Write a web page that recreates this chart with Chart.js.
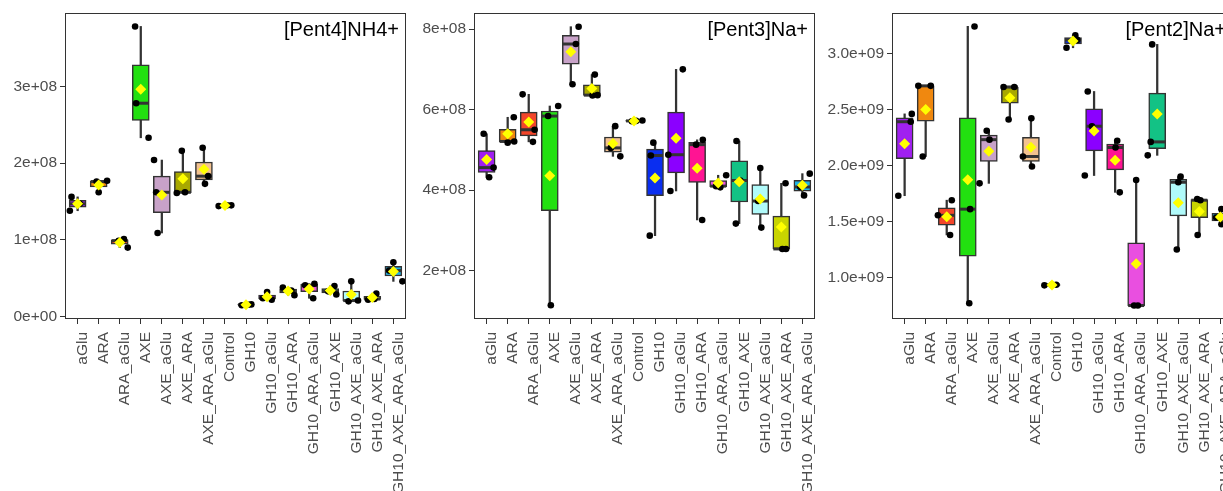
<!DOCTYPE html>
<html>
<head>
<meta charset="utf-8">
<script src="https://cdn.jsdelivr.net/npm/chart.js@4.4.1/dist/chart.umd.min.js"></script>
<style>
  html, body { margin: 0; padding: 0; background: #fff; width: 1223px; height: 491px; overflow: hidden; }
  canvas.panel { position: absolute; top: 0; }
</style>
</head>
<body>
<canvas id="p1" class="panel" width="410" height="491" style="left:0px"></canvas>
<canvas id="p2" class="panel" width="409" height="491" style="left:410px"></canvas>
<canvas id="p3" class="panel" width="417" height="491" style="left:820px"></canvas>
<script>
/* boxplots of peak areas per enzyme treatment, one panel per ion */

const CATEGORIES = ['aGlu', 'ARA', 'ARA_aGlu', 'AXE', 'AXE_aGlu', 'AXE_ARA', 'AXE_ARA_aGlu', 'Control',
  'GH10', 'GH10_aGlu', 'GH10_ARA', 'GH10_ARA_aGlu', 'GH10_AXE', 'GH10_AXE_aGlu', 'GH10_AXE_ARA', 'GH10_AXE_ARA_aGlu'];

// three replicates per treatment, low to high
const PENT4_NH4 = [
  [1.38e8, 1.47e8, 1.56e8], [1.62e8, 1.76e8, 1.77e8], [0.90e8, 0.99e8, 1.01e8], [2.33e8, 2.78e8, 3.78e8],
  [1.09e8, 1.62e8, 2.04e8], [1.61e8, 1.62e8, 2.16e8], [1.73e8, 1.83e8, 2.20e8], [1.44e8, 1.45e8, 1.45e8],
  [0.15e8, 0.155e8, 0.16e8], [0.22e8, 0.24e8, 0.32e8], [0.28e8, 0.34e8, 0.38e8], [0.24e8, 0.41e8, 0.43e8],
  [0.29e8, 0.33e8, 0.40e8], [0.20e8, 0.21e8, 0.46e8], [0.22e8, 0.23e8, 0.30e8], [0.46e8, 0.60e8, 0.71e8]
];
const PENT3_NA = [
  [4.32e8, 4.56e8, 5.40e8], [5.18e8, 5.21e8, 5.81e8], [5.20e8, 5.50e8, 6.38e8], [1.14e8, 5.84e8, 6.09e8],
  [6.63e8, 7.63e8, 8.06e8], [6.35e8, 6.36e8, 6.87e8], [4.84e8, 5.05e8, 5.59e8], [5.71e8, 5.72e8, 5.73e8],
  [2.87e8, 4.86e8, 5.18e8], [3.98e8, 4.88e8, 7.00e8], [3.26e8, 5.13e8, 5.25e8], [4.07e8, 4.10e8, 4.37e8],
  [3.17e8, 4.24e8, 5.22e8], [3.07e8, 3.73e8, 4.55e8], [2.54e8, 2.54e8, 4.17e8], [3.87e8, 4.08e8, 4.41e8]
];
const PENT2_NA = [
  [1.73e9, 2.39e9, 2.46e9], [2.08e9, 2.71e9, 2.71e9], [1.38e9, 1.555e9, 1.69e9], [0.77e9, 1.61e9, 3.24e9],
  [1.84e9, 2.23e9, 2.31e9], [2.41e9, 2.70e9, 2.70e9], [1.99e9, 2.08e9, 2.42e9], [0.93e9, 0.935e9, 0.935e9],
  [3.05e9, 3.12e9, 3.16e9], [1.91e9, 2.35e9, 2.66e9], [1.76e9, 2.16e9, 2.22e9], [0.75e9, 0.75e9, 1.87e9],
  [2.09e9, 2.21e9, 3.08e9], [1.25e9, 1.85e9, 1.90e9], [1.38e9, 1.69e9, 1.70e9], [1.475e9, 1.535e9, 1.61e9]
];

const PENT4_TICKS = [0, 1e8, 2e8, 3e8];
const PENT3_TICKS = [2e8, 4e8, 6e8, 8e8];
const PENT2_TICKS = [1.0e9, 1.5e9, 2.0e9, 2.5e9, 3.0e9];

const FILLS = ['#A020F0', '#F0880F', '#F2452A', '#22E010', '#C8A2C8', '#A8A800', '#F4C28F', '#BEBEBE',
  '#0A2EF0', '#8B00FF', '#FF1493', '#E94FE0', '#13C285', '#B0FAFA', '#C8D400', '#1EB4E6'];

// sideways jitter of each replicate dot, in category widths
const PENT4_JITTER = [
  [-0.37, 0.1, -0.29], [0, -0.1, 0.4], [0.38, -0.05, 0.2], [0.37, -0.22, -0.27],
  [-0.2, -0.27, -0.37], [-0.29, 0.1, -0.05], [0.05, 0.2, -0.06], [-0.3, 0.1, 0.3],
  [-0.2, 0.1, 0.25], [0.22, -0.2, 0], [0.3, 0.15, -0.25], [0.19, -0.19, 0.25],
  [0.29, -0.1, 0.2], [-0.13, 0.32, 0], [-0.2, 0.1, 0.19], [0.43, -0.2, 0]
];
const PENT3_JITTER = [
  [0.12, 0.33, -0.14], [0, 0.31, 0.29], [0.2, 0.28, -0.29], [0.05, -0.08, 0.4],
  [0.08, 0.24, 0.37], [0.03, 0.27, 0.14], [0.35, -0.1, 0.11], [-0.1, 0.1, 0.4],
  [-0.25, -0.2, -0.08], [-0.27, -0.37, 0.32], [0.24, -0.05, 0.27], [0.1, -0.1, 0.38],
  [-0.16, 0.05, -0.13], [0.05, -0.1, 0], [0.05, 0.22, 0.2], [0.08, -0.1, 0.35]
];
const PENT2_JITTER = [
  [-0.3, 0.29, 0.34], [-0.14, -0.35, 0.24], [0.16, -0.42, 0.24], [0.07, 0.11, 0.32],
  [-0.44, 0.03, -0.1], [-0.06, -0.3, 0.21], [0.05, -0.38, 0.02], [-0.36, 0, 0.2],
  [-0.31, 0.2, 0.11], [-0.44, -0.1, -0.3], [0.22, 0.02, 0.1], [-0.1, 0.08, 0],
  [-0.45, -0.31, -0.24], [-0.07, 0, 0.11], [-0.08, 0.05, -0.1], [0.05, -0.2, 0.05]
];

const FONT = '"Liberation Sans", Arial, sans-serif';
const INK = '#333333';

function quantile(sorted, p) {
  const h = (sorted.length - 1) * p;
  const lo = Math.floor(h);
  const hi = Math.ceil(h);
  return sorted[lo] + (sorted[hi] - sorted[lo]) * (h - lo);
}

function boxStats(vals) {
  const s = [...vals].sort((a, b) => a - b);
  const q1 = quantile(s, 0.25), med = quantile(s, 0.5), q3 = quantile(s, 0.75);
  const iqr = q3 - q1;
  const inside = s.filter(v => v >= q1 - 1.5 * iqr && v <= q3 + 1.5 * iqr);
  return {
    q1, med, q3,
    lo: Math.min(...inside),
    hi: Math.max(...inside),
    mean: s.reduce((a, b) => a + b, 0) / s.length
  };
}

function fmtSci(v, digits) {
  const [m, e] = v.toExponential(digits).split('e');
  return m + 'e' + e[0] + e.slice(1).padStart(2, '0');
}

const panelFrame = {
  id: 'panelFrame',
  afterDatasetsDraw(chart, args, opts) {
    const { ctx, chartArea: a } = chart;
    ctx.save();
    ctx.strokeStyle = INK;
    ctx.lineWidth = 1;
    ctx.strokeRect(a.left + 0.5, a.top + 0.5, a.width - 1, a.height - 1);
    ctx.fillStyle = '#000';
    ctx.font = '20px ' + FONT;
    ctx.textAlign = 'right';
    ctx.textBaseline = 'alphabetic';
    ctx.fillText(opts.label, a.right - 7, a.top + 23);
    ctx.restore();
  }
};

function makePanel(id, values, jitter, yMin, yMax, yTicks, digits, label, yWidth) {
  const stats = values.map(boxStats);
  const dots = [];
  values.forEach((vals, i) => {
    vals.forEach((v, j) => dots.push({ x: i + jitter[i][j], y: v }));
  });

  return new Chart(document.getElementById(id), {
    type: 'bar',
    data: {
      datasets: [
        {
          type: 'scatter',
          data: stats.map((s, i) => ({ x: i, y: s.mean })),
          pointStyle: 'rectRot',
          pointRadius: 5.5,
          pointHoverRadius: 5.5,
          backgroundColor: '#FFFF00',
          borderWidth: 0,
          order: 1
        },
        {
          type: 'scatter',
          data: dots,
          pointRadius: 3.3,
          pointHoverRadius: 3.3,
          backgroundColor: '#000',
          borderWidth: 0,
          order: 2
        },
        {
          type: 'scatter',
          data: stats.map((s, i) => ({ x: i, y: s.med })),
          pointStyle: 'line',
          pointRadius: 8,
          pointHoverRadius: 8,
          borderColor: INK,
          borderWidth: 3,
          order: 3
        },
        {
          type: 'bar',
          data: stats.map((s, i) => ({ x: i, y: [s.q1, s.q3] })),
          backgroundColor: FILLS,
          borderColor: INK,
          borderWidth: 1.5,
          borderSkipped: false,
          barThickness: 17,
          grouped: false,
          order: 4
        },
        {
          type: 'bar',
          data: stats.map((s, i) => ({ x: i, y: [s.lo, s.hi] })),
          backgroundColor: INK,
          borderWidth: 0,
          barThickness: 1.6,
          grouped: false,
          order: 5
        }
      ]
    },
    options: {
      responsive: false,
      animation: false,
      layout: { autoPadding: false, padding: { top: 13, right: 4, left: 0, bottom: 0 } },
      plugins: {
        legend: { display: false },
        tooltip: { enabled: false },
        panelFrame: { label }
      },
      scales: {
        x: {
          type: 'linear',
          min: -0.6,
          max: CATEGORIES.length - 0.4,
          offset: false,
          border: { display: false },
          grid: { offset: false, drawOnChartArea: false, drawTicks: true, tickLength: 5, tickColor: INK, tickWidth: 1 },
          afterBuildTicks: scale => { scale.ticks = CATEGORIES.map((c, i) => ({ value: i })); },
          afterFit: scale => { scale.height = 172; scale.paddingLeft = 0; scale.paddingRight = 0; },
          ticks: {
            autoSkip: false,
            minRotation: 90,
            maxRotation: 90,
            padding: 8,
            labelOffset: 5,
            color: '#4D4D4D',
            font: { family: FONT, size: 15.5 },
            callback: v => CATEGORIES[v]
          }
        },
        y: {
          min: yMin,
          max: yMax,
          border: { display: false },
          grid: { drawOnChartArea: false, drawTicks: true, tickLength: 5, tickColor: INK, tickWidth: 1 },
          afterBuildTicks: scale => { scale.ticks = yTicks.map(v => ({ value: v })); },
          afterFit: scale => { scale.width = yWidth; },
          ticks: {
            padding: 3,
            color: '#4D4D4D',
            font: { family: FONT, size: 15.5 },
            callback: v => fmtSci(v, digits)
          }
        }
      }
    },
    plugins: [panelFrame]
  });
}

makePanel('p1', PENT4_NH4, PENT4_JITTER, -0.03e8, 3.955e8, PENT4_TICKS, 0, '[Pent4]NH4+', 65);
makePanel('p2', PENT3_NA, PENT3_JITTER, 0.8e8, 8.4e8, PENT3_TICKS, 0, '[Pent3]Na+', 64);
makePanel('p3', PENT2_NA, PENT2_JITTER, 0.63e9, 3.36e9, PENT2_TICKS, 1, '[Pent2]Na+', 72);
</script>
</body>
</html>
